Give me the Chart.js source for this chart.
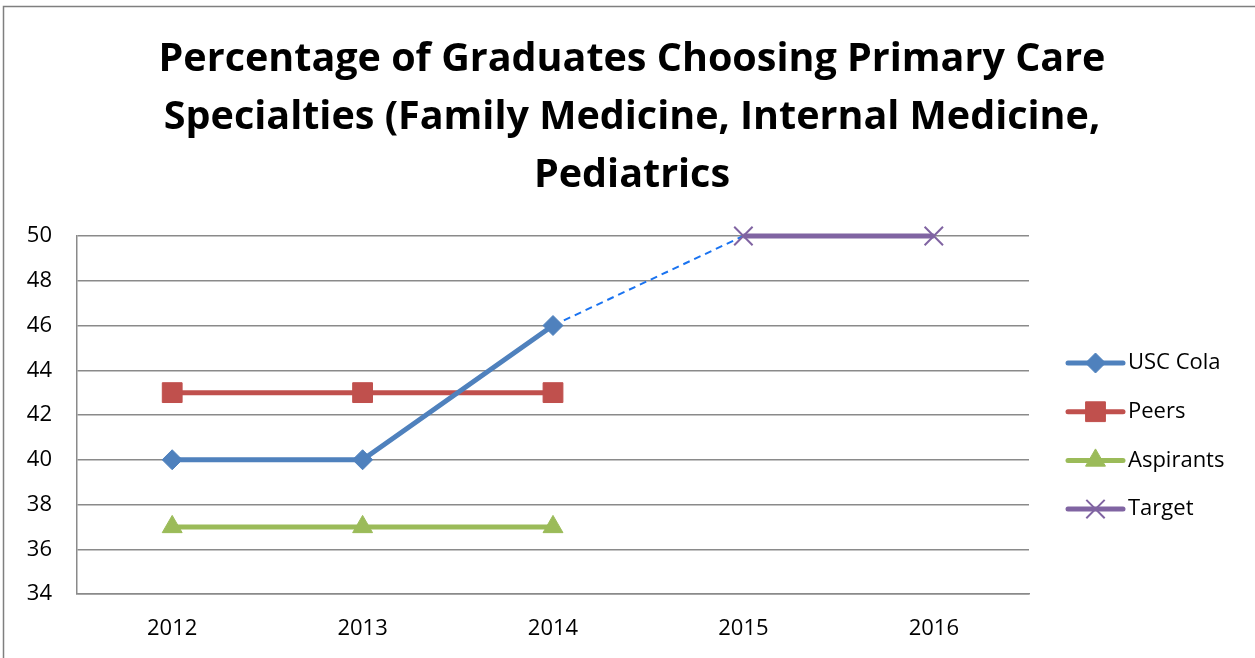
<!DOCTYPE html>
<html>
<head>
    <title>Primary Care Specialties</title>
    <script src="https://cdn.jsdelivr.net/npm/chart.js"></script>
    <style>
        html, body { margin: 0; padding: 0; background: #fff; }
        #wrap { width: 1255px; height: 658px; }
    </style>
</head>
<body>
    <div id="wrap"><canvas id="lineChart"></canvas></div>

    <script>
        // data
        const years = ['2012', '2013', '2014', '2015', '2016'];
        const uscCola = [40, 40, 46, null, null];
        const peers = [43, 43, 43, null, null];
        const aspirants = [37, 37, 37, null, null];
        const target = [null, null, null, 50, 50];
        const projection = [null, null, 46, 50, null];   // dashed link 2014 -> 2015
        const titleLines = ['Percentage of Graduates Choosing Primary Care',
                            'Specialties (Family Medicine, Internal Medicine,',
                            'Pediatrics'];

        const FONT = '"Open Sans", "Noto Sans", sans-serif';

        // outer frame + title centred on the whole chart object
        const framePlugin = {
            id: 'frame',
            beforeDraw(chart) {
                const ctx = chart.ctx;
                ctx.save();
                ctx.strokeStyle = '#7f7f7f';
                ctx.lineWidth = 1.5;
                ctx.beginPath();
                ctx.moveTo(3.5, chart.height);
                ctx.lineTo(3.5, 6.5);
                ctx.lineTo(chart.width, 6.5);
                ctx.stroke();

                ctx.fillStyle = '#000';
                ctx.font = 'bold 39.5px ' + FONT;
                ctx.textAlign = 'center';
                ctx.textBaseline = 'middle';
                titleLines.forEach((t, i) => {
                    ctx.fillText(t, 632, 60 + i * 58);
                });
                ctx.restore();
            }
        };

        // legend with line + marker, like the office style
        const sideLegend = {
            id: 'sideLegend',
            afterDraw(chart) {
                const ctx = chart.ctx;
                const area = chart.chartArea;
                const x0 = area.right + 39, x1 = area.right + 94;
                let y = area.top + 127;
                ctx.save();
                chart.data.datasets.forEach(ds => {
                    if (!ds.label) return;
                    ctx.strokeStyle = ds.borderColor;
                    ctx.lineWidth = ds.borderWidth;
                    ctx.lineCap = 'round';
                    ctx.setLineDash([]);
                    ctx.beginPath();
                    ctx.moveTo(x0, y);
                    ctx.lineTo(x1, y);
                    ctx.stroke();
                    ctx.fillStyle = ds.pointBackgroundColor;
                    ctx.strokeStyle = ds.pointBorderColor;
                    ctx.lineWidth = ds.pointBorderWidth;
                    ctx.lineCap = 'butt';
                    Chart.helpers.drawPoint(ctx, {
                        pointStyle: ds.pointStyle,
                        radius: ds.pointRadius,
                        borderWidth: ds.pointBorderWidth,
                        rotation: 0
                    }, (x0 + x1) / 2, y);
                    ctx.fillStyle = '#000';
                    ctx.font = '22px ' + FONT;
                    ctx.textAlign = 'left';
                    ctx.textBaseline = 'middle';
                    ctx.fillText(ds.label, x1 + 5, y);
                    y += 48.7;
                });
                ctx.restore();
            }
        };

        function series(label, data, color, style, radius, borderW) {
            return {
                label: label,
                data: data,
                borderColor: color,
                backgroundColor: color,
                borderWidth: 5,
                pointStyle: style,
                pointRadius: radius,
                pointHoverRadius: radius,
                pointBackgroundColor: color,
                pointBorderColor: color,
                pointBorderWidth: borderW,
                tension: 0,
                spanGaps: false,
                clip: false
            };
        }

        const ctx = document.getElementById('lineChart').getContext('2d');
        new Chart(ctx, {
            type: 'line',
            data: {
                labels: years,
                datasets: [
                    series('USC Cola', uscCola, '#4f81bd', 'rectRot', 10, 1),
                    series('Peers', peers, '#c0504d', 'rect', 14, 1),
                    series('Aspirants', aspirants, '#9bbb59', 'triangle', 11.5, 1),
                    series('Target', target, '#8064a2', 'crossRot', 13, 2),
                    {
                        label: '',
                        data: projection,
                        borderColor: '#1a73f0',
                        borderWidth: 2,
                        borderDash: [7, 5],
                        pointRadius: 0,
                        fill: false,
                        clip: false,
                        order: 5
                    }
                ]
            },
            options: {
                responsive: true,
                maintainAspectRatio: false,
                animation: false,
                layout: { padding: { left: 0, right: 226, top: 236, bottom: 0 } },
                plugins: {
                    legend: { display: false },
                    tooltip: { enabled: false },
                    title: { display: false }
                },
                scales: {
                    x: {
                        offset: true,
                        grid: { display: false, drawTicks: false },
                        border: { color: '#8a8a8a', width: 1.5 },
                        ticks: { color: '#000', font: { family: FONT, size: 22 }, padding: 22 },
                        afterFit(scale) { scale.height = 64; }
                    },
                    y: {
                        min: 34,
                        max: 50,
                        ticks: {
                            stepSize: 2,
                            color: '#000',
                            font: { family: FONT, size: 22 },
                            padding: 25
                        },
                        grid: { color: '#8a8a8a', lineWidth: 1.5, drawTicks: false },
                        border: { color: '#8a8a8a', width: 1.5 },
                        afterFit(scale) { scale.width = 77; }
                    }
                }
            },
            plugins: [framePlugin, sideLegend]
        });
    </script>
</body>
</html>
